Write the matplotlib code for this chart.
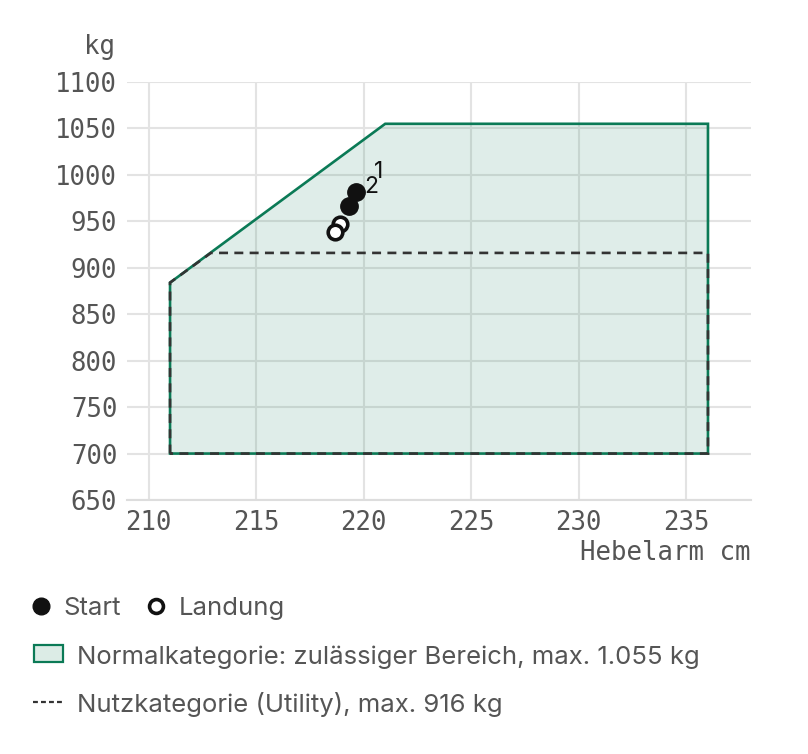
import matplotlib
matplotlib.use("Agg")
import matplotlib.pyplot as plt
from matplotlib.patches import Polygon, Rectangle
from matplotlib.lines import Line2D

# ---- data ----
normal_x = [211, 211, 221, 236, 236]
normal_y = [700, 884, 1055, 1055, 700]
utility_x = [211, 211, 212.9, 236, 236]
utility_y = [700, 884, 916, 916, 700]
start_x = [219.65, 219.3]
start_y = [982, 966]
start_labels = ["1", "2"]
landing_x = [218.9, 218.65]
landing_y = [947, 938]
x_ticks = [210, 215, 220, 225, 230, 235]
y_ticks = [650, 700, 750, 800, 850, 900, 950, 1000, 1050, 1100]
x_label = "Hebelarm cm"
y_label = "kg"
legend_start = "Start"
legend_landing = "Landung"
legend_normal = "Normalkategorie: zulässiger Bereich, max. 1.055 kg"
legend_utility = "Nutzkategorie (Utility), max. 916 kg"

GREEN = "#0b7a56"
DASH = "#333333"
TXT = "#555555"
GRID = "#e3e3e3"
MONO = "DejaVu Sans Mono"
SANS = ["Inter", "DejaVu Sans"]

W, H = 808, 754
fig = plt.figure(figsize=(W / 100, H / 100), dpi=100)
ax = fig.add_axes([127 / W, 1 - 500 / H, (751 - 127) / W, (500 - 82) / H])
ax.set_xlim(209, 238)
ax.set_ylim(650, 1100)
ax.set_xticks(x_ticks)
ax.set_yticks(y_ticks)
ax.grid(True, color=GRID, linewidth=1.5, zorder=0)
ax.set_axisbelow(True)
for s in ["top", "right", "left"]:
    ax.spines[s].set_visible(False)
ax.spines["bottom"].set_color("#dddddd")
ax.spines["bottom"].set_linewidth(1.5)
ax.tick_params(length=0, labelsize=18.5, labelcolor=TXT, pad=7)
for lab in ax.get_xticklabels() + ax.get_yticklabels():
    lab.set_fontfamily(MONO)

# normal category polygon
ax.add_patch(Polygon(list(zip(normal_x, normal_y)), closed=True,
                     facecolor=GREEN, alpha=0.13, edgecolor="none", zorder=2))
ax.add_patch(Polygon(list(zip(normal_x, normal_y)), closed=True,
                     facecolor="none", edgecolor=GREEN, linewidth=1.9, zorder=3))
# utility category
ax.add_patch(Polygon(list(zip(utility_x, utility_y)), closed=True,
                     facecolor="none", edgecolor=DASH, linewidth=1.9,
                     linestyle=(0, (3.4, 2.4)), zorder=4))

# points
ax.plot(start_x, start_y, "o", color="#111111", markersize=12.5, zorder=6,
        linestyle="none")
ax.plot(landing_x, landing_y, "o", markerfacecolor="white",
        markeredgecolor="#111111", markeredgewidth=2.6, markersize=10.5,
        zorder=5, linestyle="none")
for x, y, t in zip(start_x, start_y, start_labels):
    ax.annotate(t, (x, y), xytext=(16, 14), textcoords="offset points",
                ha="center", va="center", fontsize=16.5, color="#111111",
                family=SANS, zorder=7)

# axis titles
fig.text(750 / W, 1 - 553 / H, x_label, ha="right", va="center",
         fontsize=18.5, color=TXT, family=MONO)
fig.text(115 / W, 1 - 47 / H, y_label, ha="right", va="center",
         fontsize=18.5, color=TXT, family=MONO)

# legend (pixel coordinates)
lg = fig.add_axes([0, 0, 1, 1], zorder=10)
lg.set_xlim(0, W)
lg.set_ylim(H, 0)
lg.axis("off")
lg.patch.set_alpha(0)
lg.add_line(Line2D([41], [606], marker="o", color="#111111", markersize=12))
lg.text(63, 606, legend_start, ha="left", va="center_baseline", fontsize=18.5,
        color=TXT, family=SANS)
lg.add_line(Line2D([156], [606], marker="o", markerfacecolor="white",
                   markeredgecolor="#111111", markeredgewidth=2.6,
                   markersize=10))
lg.text(179, 606, legend_landing, ha="left", va="center_baseline",
        fontsize=18.5, color=TXT, family=SANS)
lg.add_patch(Rectangle((34, 645), 29, 17, facecolor="#dcece6",
                       edgecolor=GREEN, linewidth=1.6))
lg.text(77, 655, legend_normal, ha="left", va="center_baseline",
        fontsize=18.5, color=TXT, family=SANS)
lg.add_line(Line2D([33, 63], [702, 702], color=DASH, linewidth=1.6,
                   linestyle=(0, (2.2, 1.4))))
lg.text(77, 702, legend_utility, ha="left", va="center_baseline",
        fontsize=18.5, color=TXT, family=SANS)

fig.savefig("out.png", dpi=100, facecolor="white")
